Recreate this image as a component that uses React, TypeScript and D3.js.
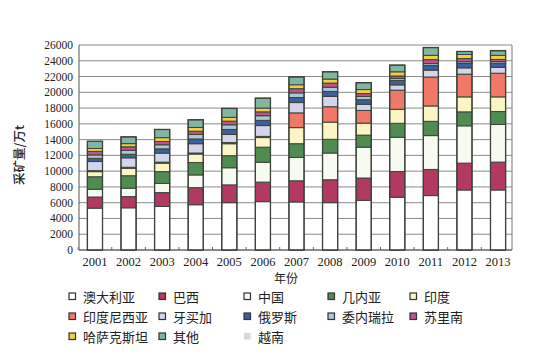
import React from "react";
import * as d3 from "d3";

const width = 554;
const height = 360;
const margin = { top: 45, right: 42, bottom: 110, left: 79 };

const years = ["2001", "2002", "2003", "2004", "2005", "2006", "2007", "2008", "2009", "2010", "2011", "2012", "2013"];

const countries = ["澳大利亚", "巴西", "中国", "几内亚", "印度", "印度尼西亚", "牙买加", "俄罗斯", "委内瑞拉", "苏里南", "哈萨克斯坦", "其他", "越南"];

// 采矿量 (万t)
const australia = [5310, 5350, 5520, 5740, 6000, 6130, 6090, 6000, 6300, 6690, 6900, 7610, 7610];
const brazil = [1410, 1420, 1760, 2170, 2260, 2480, 2690, 2910, 2830, 3270, 3320, 3410, 3540];
const china = [990, 1070, 1160, 1610, 2170, 2520, 2960, 3390, 3910, 4340, 4290, 4730, 4770];
const guinea = [1580, 1580, 1500, 1570, 1530, 1910, 1740, 1740, 1530, 1770, 1810, 1770, 1640];
const india = [650, 940, 1070, 1080, 1520, 1220, 2040, 2180, 1520, 1770, 1950, 1900, 1860];
const indonesia = [120, 130, 130, 130, 140, 150, 1870, 1950, 1610, 2430, 3670, 2880, 3000];
const jamaica = [1160, 1200, 1150, 1180, 1030, 1370, 1310, 1310, 780, 670, 870, 800, 740];
const russia = [400, 450, 540, 600, 640, 660, 640, 630, 580, 570, 580, 560, 530];
const venezuela = [440, 500, 520, 580, 590, 590, 590, 530, 420, 250, 250, 220, 210];
const suriname = [450, 450, 420, 400, 460, 490, 530, 530, 360, 310, 500, 400, 270];
const kazakhstan = [370, 400, 480, 480, 480, 480, 500, 510, 510, 530, 550, 520, 520];
const others = [900, 850, 1030, 970, 1130, 1250, 990, 920, 860, 840, 980, 370, 500];
const vietnam = [10, 10, 10, 10, 10, 10, 10, 10, 10, 10, 10, 10, 100];

const series = [australia, brazil, china, guinea, india, indonesia, jamaica, russia, venezuela, suriname, kazakhstan, others, vietnam];

const colors = ["#ffffff", "#b23a62", "#f6faf0", "#4f8c52", "#fbf5c6", "#ef7867", "#d6d3ec", "#3e5f9f", "#a9c6d2", "#c0528c", "#efcf46", "#80b6a2", "#d8d8d8"];

const yTicks = d3.range(0, 26001, 2000);

// legend grid: column x, row y
const legendCols = [72, 162, 247, 331, 413];
const legendRows = [297, 317, 337];

export default function App() {
  const innerW = width - margin.left - margin.right;
  const innerH = height - margin.top - margin.bottom;

  const x = d3.scaleBand().domain(years).range([0, innerW + 2]).paddingInner(0.55).paddingOuter(0.25);
  const y = d3.scaleLinear().domain([0, 26000]).range([innerH, 0]);

  const rows = years.map((yr, i) => {
    const r: any = { year: yr };
    countries.forEach((c, k) => (r[c] = series[k][i]));
    return r;
  });
  const stacked = d3.stack().keys(countries)(rows);

  const serif = "'Liberation Serif', 'DejaVu Serif', serif";
  const cjk = "'Noto Sans CJK SC', sans-serif";

  return (
    <svg width={width} height={height} style={{ position: "absolute", left: 0, top: 0, background: "#fff" }}>
      <g transform={`translate(${margin.left},${margin.top})`}>
        {yTicks.map(t => (
          <line key={t} x1={0} x2={innerW} y1={y(t)} y2={y(t)} stroke="#8a8a8a" strokeWidth={1} />
        ))}
        <line x1={0} x2={0} y1={0} y2={innerH} stroke="#555" />
        <line x1={innerW} x2={innerW} y1={0} y2={innerH} stroke="#777" />
        <line x1={0} x2={innerW} y1={innerH} y2={innerH} stroke="#555" />
        {years.map(yr => (
          <line key={yr} x1={(x(yr) as number) - x.step() * 0.275} x2={(x(yr) as number) - x.step() * 0.275}
            y1={innerH} y2={innerH - 3} stroke="#666" />
        ))}
        {yTicks.map(t => (
          <text key={t} x={-6} y={y(t)} dy="0.35em" textAnchor="end" fontFamily={serif} fontSize={11.5} fill="#222">
            {t}
          </text>
        ))}
        {stacked.map((s, k) =>
          s.map((d, i) => (
            <rect key={k + "-" + i} x={x(years[i])} y={y(d[1])} width={x.bandwidth()}
              height={Math.max(0, y(d[0]) - y(d[1]))} fill={colors[k]}
              stroke={k === 12 ? "none" : "#3b4438"} strokeWidth={1} />
          ))
        )}
        {stacked[12].map((d, i) => (
          <rect key={"o" + i} x={x(years[i])} y={y(d[1])} width={x.bandwidth()}
            height={y(0) - y(d[1])} fill="none" stroke="#3b4438" strokeWidth={1.3} />
        ))}
        {years.map(yr => (
          <text key={yr} x={(x(yr) as number) + x.bandwidth() / 2} y={innerH + 16} textAnchor="middle"
            fontFamily={serif} fontSize={12.5} fill="#222">
            {yr}
          </text>
        ))}
      </g>
      <text transform="translate(24,155) rotate(-90)" textAnchor="middle" fontFamily={cjk} fontSize={12.5}
        fontWeight={500} fill="#222">
        采矿量/万t
      </text>
      <text x={286} y={283} textAnchor="middle" fontFamily={cjk} fontSize={12} fill="#222">
        年份
      </text>
      {countries.map((c, k) => {
        const cx = legendCols[k % 5];
        const cy = legendRows[Math.floor(k / 5)];
        return (
          <g key={c}>
            <rect x={cx - 3} y={cy - 4} width={6.5} height={6.5} fill={colors[k]}
              stroke={k === 12 ? "none" : "#333"} strokeWidth={1.2} />
            <text x={cx + 11} y={cy} dy="0.35em" fontFamily={cjk} fontSize={13} fill="#222">
              {c}
            </text>
          </g>
        );
      })}
    </svg>
  );
}
